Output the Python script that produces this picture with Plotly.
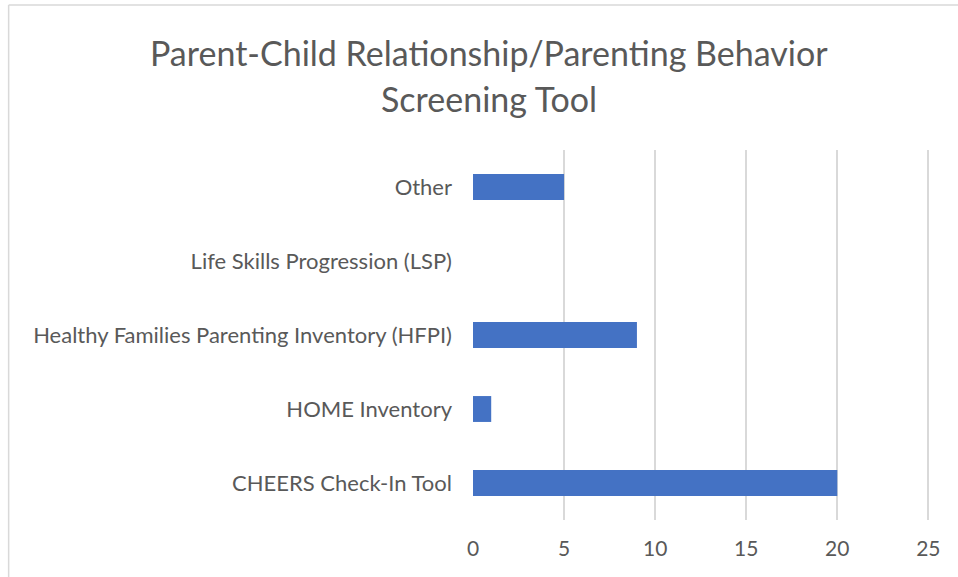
import plotly.graph_objects as go

categories = ["CHEERS Check-In Tool", "HOME Inventory",
              "Healthy Families Parenting Inventory (HFPI)",
              "Life Skills Progression (LSP)", "Other"]
values = [20, 1, 9, 0, 5]
x_ticks = [0, 5, 10, 15, 20, 25]
title_lines = ["Parent-Child Relationship/Parenting Behavior", "Screening Tool"]

W, H = 958, 577
XMAX = 25.2
UNIT = 455 / 25  # pixels per unit
L, T, B = 473, 150, 57
R = W - L - UNIT * XMAX
pw, ph = W - L - R, H - T - B

def px_x(px):
    return (px - L) / pw

def px_y(py):
    return (H - B - py) / ph

TEXT = "#595959"
FONT = "Lato"

fig = go.Figure(go.Bar(
    y=categories, x=values, orientation="h",
    marker=dict(color="#4472C4", line=dict(width=0)),
))

fig.update_layout(
    width=W, height=H,
    margin=dict(l=L, r=R, t=T, b=B),
    paper_bgcolor="white", plot_bgcolor="white",
    bargap=0.65, showlegend=False,
    font=dict(family=FONT, color=TEXT),
    xaxis=dict(range=[0, XMAX], tickvals=x_ticks, showgrid=True,
               gridcolor="#d9d9d9", gridwidth=1.5, zeroline=False,
               showline=False, ticks="", tickfont=dict(size=21, color=TEXT),
               ticklabelstandoff=14, fixedrange=True),
    yaxis=dict(type="category", categoryorder="array", categoryarray=categories,
               showgrid=False, zeroline=False, showline=False, ticks="",
               tickfont=dict(size=22, color=TEXT), ticklabelstandoff=20,
               fixedrange=True),
    annotations=[
        dict(text=title_lines[0], xref="paper", yref="paper",
             x=px_x(489), y=px_y(52), xanchor="center", yanchor="middle",
             showarrow=False, font=dict(size=34, color=TEXT, family=FONT)),
        dict(text=title_lines[1], xref="paper", yref="paper",
             x=px_x(489), y=px_y(98), xanchor="center", yanchor="middle",
             showarrow=False, font=dict(size=34, color=TEXT, family=FONT)),
    ],
    shapes=[
        dict(type="line", xref="paper", yref="paper",
             x0=px_x(9), x1=px_x(9), y0=px_y(5), y1=px_y(H + 5),
             line=dict(color="#d9d9d9", width=1.5)),
        dict(type="line", xref="paper", yref="paper",
             x0=px_x(9), x1=px_x(W + 5), y0=px_y(5), y1=px_y(5),
             line=dict(color="#d9d9d9", width=1.5)),
    ],
)

fig.write_html("out.html", config={"displayModeBar": False},
               post_script="document.body.style.margin='0';")
